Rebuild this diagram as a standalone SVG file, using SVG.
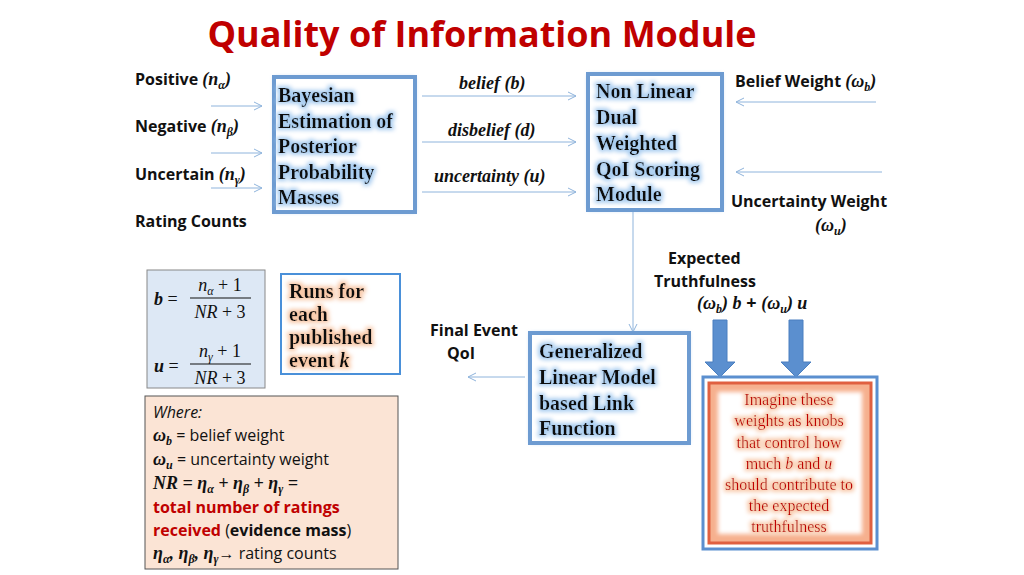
<svg xmlns="http://www.w3.org/2000/svg" width="1024" height="575" viewBox="0 0 1024 575">
<defs>
<filter id="gb" x="-10%" y="-20%" width="120%" height="140%"><feMorphology in="SourceAlpha" operator="dilate" radius="1.5" result="d"/><feGaussianBlur in="d" stdDeviation="2" result="b"/><feFlood flood-color="#a9cdf0"/><feComposite in2="b" operator="in" result="g"/><feMerge><feMergeNode in="g"/><feMergeNode in="SourceGraphic"/></feMerge></filter>
<filter id="go" x="-10%" y="-20%" width="120%" height="140%"><feMorphology in="SourceAlpha" operator="dilate" radius="1.5" result="d"/><feGaussianBlur in="d" stdDeviation="2" result="b"/><feFlood flood-color="#f8c8a8"/><feComposite in2="b" operator="in" result="g"/><feMerge><feMergeNode in="g"/><feMergeNode in="SourceGraphic"/></feMerge></filter>
<filter id="bb" x="-10%" y="-10%" width="120%" height="120%"><feGaussianBlur stdDeviation="2"/></filter>
<marker id="ah" viewBox="0 0 10 10" refX="9" refY="5" markerWidth="10" markerHeight="10" markerUnits="userSpaceOnUse" orient="auto"><path d="M1,1 L9,5 L1,9" fill="none" stroke="#8fb4dc" stroke-width="1"/></marker>
</defs>
<style>
.lb{font-family:"Open Sans",sans-serif;font-weight:bold;font-size:16px;fill:#111}
.bx{font-family:"Liberation Serif",serif;font-weight:bold;font-size:20px;fill:#111}
.m{font-family:"Liberation Serif",serif;font-weight:bold;font-style:italic;font-size:18px;fill:#111}
.mr{font-family:"Liberation Serif",serif;font-style:italic;font-size:18px;fill:#111}
.wt{font-family:"Open Sans",sans-serif;font-size:16px;fill:#111}
.ln{stroke:#8fb4dc;stroke-width:1;fill:none}
.bl{fill:#fff;stroke:#6d9bd1;stroke-width:4}
.rd{font-family:"Liberation Serif",serif;font-size:16px;fill:#c00000;text-anchor:middle}
</style>
<text x="482" y="47" text-anchor="middle" style="font-family:'Open Sans',sans-serif;font-weight:bold;font-size:36px;fill:#c00000">Quality of Information Module</text>
<g id="inputs">
<text class="lb" x="135" y="85">Positive <tspan class="m">(n<tspan font-size="12" dy="4">α</tspan><tspan dy="-4">)</tspan></tspan></text>
<text class="lb" x="135" y="132">Negative <tspan class="m">(n<tspan font-size="12" dy="4">β</tspan><tspan dy="-4">)</tspan></tspan></text>
<text class="lb" x="135" y="180">Uncertain <tspan class="m">(n<tspan font-size="12" dy="4">γ</tspan><tspan dy="-4">)</tspan></tspan></text>
<text class="lb" x="135" y="227">Rating Counts</text>
</g>
<g id="bayes">
<rect x="274" y="77" width="141" height="135" fill="#a9cdf0" filter="url(#bb)"/>
<rect class="bl" x="274" y="77" width="141" height="135"/>
<g filter="url(#gb)"><text class="bx" x="278" y="102">Bayesian</text><text class="bx" x="278" y="128">Estimation of</text><text class="bx" x="278" y="153">Posterior</text><text class="bx" x="278" y="179">Probability</text><text class="bx" x="278" y="204">Masses</text></g>
</g>
<g id="nld">
<rect x="588" y="74" width="134" height="136" fill="#a9cdf0" filter="url(#bb)"/>
<rect class="bl" x="588" y="74" width="134" height="136"/>
<g filter="url(#gb)"><text class="bx" x="596" y="98">Non Linear</text><text class="bx" x="596" y="124">Dual</text><text class="bx" x="596" y="150">Weighted</text><text class="bx" x="596" y="176">QoI Scoring</text><text class="bx" x="596" y="201">Module</text></g>
</g>
<g id="mlabels">
<text class="m" x="459" y="89">belief  (b)</text>
<text class="m" x="448" y="136">disbelief (d)</text>
<text class="m" x="434" y="182">uncertainty (u)</text>
<text class="lb" x="735" y="87">Belief Weight  <tspan class="mr" font-weight="bold">(ω<tspan font-size="12" dy="4">b</tspan><tspan dy="-4">)</tspan></tspan></text>
<text class="lb" x="731" y="207">Uncertainty Weight</text>
<text class="m" x="815" y="231">(ω<tspan font-size="12" dy="4">u</tspan><tspan dy="-4">)</tspan></text>
<text class="lb" x="668" y="264">Expected</text>
<text class="lb" x="654" y="287">Truthfulness</text>
<text class="m" x="697" y="309">(ω<tspan font-size="12" dy="4">b</tspan><tspan dy="-4">) b</tspan><tspan font-style="normal" font-family="Open Sans"> + </tspan>  (ω<tspan font-size="12" dy="4">u</tspan><tspan dy="-4">) u</tspan></text>
<text class="lb" x="430" y="336">Final Event</text>
<text class="lb" x="447" y="359">QoI</text>
</g>
<g id="connectors">
<line class="ln" x1="211" y1="106" x2="262" y2="106" marker-end="url(#ah)"/>
<line class="ln" x1="211" y1="153" x2="262" y2="153" marker-end="url(#ah)"/>
<line class="ln" x1="211" y1="188" x2="262" y2="188" marker-end="url(#ah)"/>
<line class="ln" x1="422" y1="96" x2="576" y2="96" marker-end="url(#ah)"/>
<line class="ln" x1="422" y1="142" x2="576" y2="142" marker-end="url(#ah)"/>
<line class="ln" x1="422" y1="192" x2="576" y2="192" marker-end="url(#ah)"/>
<line class="ln" x1="876" y1="102" x2="736" y2="102" marker-end="url(#ah)"/>
<line class="ln" x1="882" y1="172" x2="736" y2="172" marker-end="url(#ah)"/>
<line class="ln" x1="633" y1="212" x2="633" y2="332" marker-end="url(#ah)"/>
<line class="ln" x1="525" y1="377" x2="468" y2="377" marker-end="url(#ah)"/>
<path d="M713,320 H727 V362 H735 L720,377 L705,362 H713 Z" fill="#5b8fcf" stroke="#4a7fc0"/>
<path d="M789,320 H803 V362 H811 L796,377 L781,362 H789 Z" fill="#5b8fcf" stroke="#4a7fc0"/>
</g>
<g id="glm">
<rect x="530" y="333" width="159" height="110" fill="#a9cdf0" filter="url(#bb)"/>
<rect class="bl" x="530" y="333" width="159" height="110"/>
<g filter="url(#gb)"><text class="bx" x="539" y="358">Generalized</text><text class="bx" x="539" y="384">Linear Model</text><text class="bx" x="539" y="410">based Link</text><text class="bx" x="539" y="435">Function</text></g>
</g>
<g id="imagine">
<rect x="703" y="377" width="174" height="172" fill="#fff" stroke="#5b8fcf" stroke-width="3"/>
<rect x="709" y="383" width="162" height="160" fill="#f6b08e" stroke="#e06040" stroke-width="3"/>
<rect x="718" y="392" width="144" height="142" fill="#fff" filter="url(#bb)"/>
<g filter="url(#go)"><text class="rd" x="789" y="405">Imagine these</text><text class="rd" x="789" y="426">weights as  knobs</text><text class="rd" x="789" y="448">that control how</text><text class="rd" x="789" y="469">much <tspan font-style="italic">b</tspan> and <tspan font-style="italic">u</tspan></text><text class="rd" x="789" y="490">should contribute to</text><text class="rd" x="789" y="511">the expected</text><text class="rd" x="789" y="532">truthfulness</text></g>
</g>
<g id="formula">
<rect x="147" y="270" width="118" height="118" fill="#dde8f5" stroke="#888"/>
<text class="m" x="154" y="305">b <tspan font-style="normal" font-weight="normal">=</tspan></text>
<text class="mr" x="220" y="291" text-anchor="middle">n<tspan font-size="12" dy="4">α</tspan><tspan dy="-4" font-style="normal"> + 1</tspan></text>
<line x1="190" y1="298" x2="251" y2="298" stroke="#111" stroke-width="1.2"/>
<text class="mr" x="220" y="318" text-anchor="middle">NR<tspan font-style="normal"> + 3</tspan></text>
<text class="m" x="154" y="372">u <tspan font-style="normal" font-weight="normal">=</tspan></text>
<text class="mr" x="220" y="357" text-anchor="middle">n<tspan font-size="12" dy="4">γ</tspan><tspan dy="-4" font-style="normal"> + 1</tspan></text>
<line x1="190" y1="364" x2="251" y2="364" stroke="#111" stroke-width="1.2"/>
<text class="mr" x="220" y="384" text-anchor="middle">NR<tspan font-style="normal"> + 3</tspan></text>
</g>
<g id="runs">
<rect x="281" y="274" width="119" height="100" fill="#fff" stroke="#4a90d9" stroke-width="2"/>
<g filter="url(#go)"><text class="bx" font-size="17" x="289" y="298">Runs for</text><text class="bx" font-size="17" x="289" y="321">each</text><text class="bx" font-size="17" x="289" y="344">published</text><text class="bx" font-size="17" x="289" y="367">event <tspan font-style="italic">k</tspan></text></g>
</g>
<g id="where">
<rect x="145" y="396" width="253" height="173" fill="#fbe4d5" stroke="#555"/>
<text class="wt" x="153" y="418" font-style="italic">Where:</text>
<text class="wt" x="153" y="441"><tspan class="m">ω<tspan font-size="12" dy="4">b</tspan></tspan><tspan dy="-4"> = belief weight</tspan></text>
<text class="wt" x="153" y="465"><tspan class="m">ω<tspan font-size="12" dy="4">u</tspan></tspan><tspan dy="-4"> = uncertainty weight</tspan></text>
<text class="m" x="153" y="489">NR  =  η<tspan font-size="12" dy="4">α</tspan><tspan dy="-4"> +  η</tspan><tspan font-size="12" dy="4">β</tspan><tspan dy="-4"> +  η</tspan><tspan font-size="12" dy="4">γ</tspan><tspan dy="-4"> =</tspan></text>
<text class="lb" x="153" y="513" fill="#c00000" style="fill:#c00000">total number of ratings</text>
<text class="wt" x="153" y="536"><tspan class="lb" style="fill:#c00000">received </tspan>(<tspan font-weight="bold">evidence mass</tspan>)</text>
<text class="wt" x="153" y="559"><tspan class="m">η<tspan font-size="12" dy="4">α</tspan><tspan dy="-4">, η</tspan><tspan font-size="12" dy="4">β</tspan><tspan dy="-4">, η</tspan><tspan font-size="12" dy="4">γ</tspan></tspan><tspan dy="-4">→ rating counts</tspan></text>
</g>
</svg>
